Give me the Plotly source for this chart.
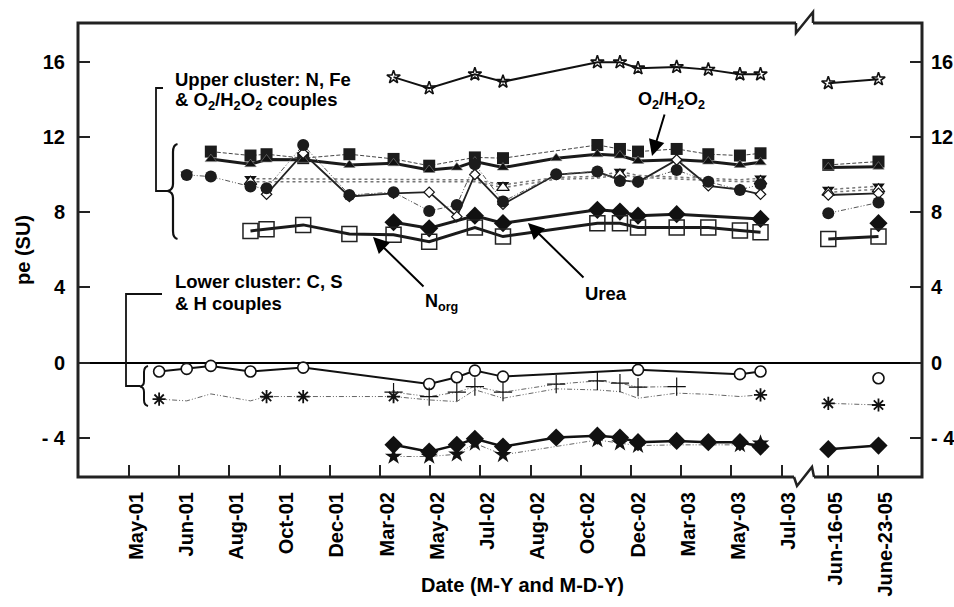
import plotly.graph_objects as go

N = None
# sampling positions on the (non-linear) date axis, in tick-index units
POS = [0.60, 1.15, 1.63, 2.42, 2.74, 3.47, 4.39, 5.27, 5.98, 6.53, 6.89, 7.45,
       8.51, 9.33, 9.78, 10.14, 10.91, 11.54, 12.17, 12.58, 13.93, 14.93]

TICK_POS = [0, 1, 2, 3, 4, 5, 6, 7, 8, 9, 10, 11, 12, 13, 13.93, 14.93]
TICK_TEXT = ["May-01", "Jun-01", "Aug-01", "Oct-01", "Dec-01", "Mar-02", "May-02",
             "Jul-02", "Aug-02", "Oct-02", "Dec-02", "Mar-03", "May-03", "Jul-03",
             "Jun-16-05", "June-23-05"]
Y_TICKS = [16, 12, 8, 4, 0, -4]
Y_TEXT = ["16", "12", "8", "4", "0", "- 4"]

# upper cluster
star_top = [N, N, N, N, N, N, N, 15.18, 14.59, N, 15.33, 14.94, N, 15.97, 15.97, 15.65, 15.72, 15.58, 15.33, 15.33, 14.86, 15.07]
sq_fill = [N, N, 11.22, 11.01, 11.08, 10.87, 11.08, 10.83, 10.47, N, 10.91, 10.87, N, 11.57, 11.36, 11.22, 11.36, 11.08, 11.01, 11.13, 10.51, 10.69]
tri_up = [N, N, 10.82, 10.55, 10.80, 10.78, 10.51, 10.60, 10.24, 10.37, 10.69, 10.37, 10.87, 11.08, 11.01, 10.72, 10.78, 10.69, 10.51, 10.65, 10.38, 10.42]
circ_fill = [N, 9.98, 9.89, 9.36, 9.27, 11.57, 8.91, 9.06, 8.06, 8.38, 10.55, 8.56, 10.02, 10.16, 9.66, 9.62, 10.24, 9.62, 9.18, 9.48, 7.94, 8.51]
dia_open = [N, N, N, N, 8.95, 11.13, 8.83, 9.00, 9.06, 7.76, 10.00, 8.42, 10.00, 10.15, 9.70, 9.60, 10.78, 9.40, 9.20, 8.95, 8.91, 9.00]
tri_down = [N, 10.02, N, 9.78, N, N, N, N, N, N, 9.72, 9.45, 9.85, 9.90, 10.16, 9.95, 9.85, 9.78, 9.72, 9.80, 9.20, 9.38]
tri_up_open = [N, N, N, 9.62, N, N, N, N, N, N, 9.62, 9.30, 9.75, 9.80, 10.00, 9.85, 9.75, 9.68, 9.62, 9.65, 9.05, 9.22]
dia_fill_up = [N, N, N, N, N, N, N, 7.46, 7.14, N, 7.81, 7.41, N, 8.12, 8.03, 7.81, 7.89, N, N, 7.64, N, 7.41]
sq_open = [N, N, N, 7.00, 7.09, 7.32, 6.84, 6.79, 6.43, N, 7.18, 6.70, N, 7.41, 7.41, 7.18, 7.18, 7.18, 7.02, 6.93, 6.57, 6.70]
# lower cluster
circ_open = [-0.48, -0.34, -0.18, -0.48, N, -0.27, N, N, -1.14, -0.78, -0.43, -0.75, N, N, N, -0.39, N, N, -0.62, -0.48, N, -0.84]
aster = [-1.95, -2.04, -1.67, -2.04, -1.81, -1.81, N, -1.81, -1.99, -2.08, -1.45, -1.90, -1.40, -1.46, -1.55, -1.90, -1.63, -1.69, -1.81, -1.72, -2.17, -2.26]
plus = [N, N, N, N, N, N, N, -1.58, -1.81, -1.58, -1.28, -1.58, -1.15, -0.98, -1.10, -1.31, -1.28, N, N, N, N, N]
dia_fill_low = [N, N, N, N, N, N, N, -4.38, -4.74, -4.38, -4.06, -4.47, -3.99, -3.89, -3.99, -4.24, -4.17, -4.24, -4.24, -4.47, -4.61, -4.42]
star_low = [N, N, N, N, N, N, N, -5.00, -5.00, -4.88, -4.30, -4.91, N, -4.12, -4.29, -4.42, -4.38, -4.38, -4.38, -4.30, N, N]

# points drawn as line vertices only (no visible marker)
aster_hidden = {1, 2, 3, 8, 9, 10, 11, 12, 13, 14, 15, 16, 17, 18}
tri_down_hidden = {10, 12, 13, 15, 16, 17, 18}
tri_up_open_hidden = {10, 12, 13, 15, 16, 17, 18}
star_low_hidden = {16, 17}

W, H = 954, 607
L, R, T, B = 78, 922, 23, 477
XR = [(L - 129) / 50.2, (R - 129) / 50.2]
YR = [-6.09, 18.06]
LABEL_SHIFT = 0.14  # tick labels sit slightly right of their ticks
FONT = "Liberation Sans, Arial, Helvetica, sans-serif"

fig = go.Figure()


def build(y, breaks):
    xs, ys = [], []
    last = None
    for i, v in enumerate(y):
        if v is None:
            continue
        if last is not None and any(last <= b < i for b in breaks):
            xs.append(None)
            ys.append(None)
        xs.append(POS[i])
        ys.append(v)
        last = i
    return xs, ys


def add(y, symbol, size, mfill, mlw, lw, dash, lcolor, hidden=(), breaks=(19,), mlc="#111"):
    xs, ys = build(y, breaks)
    fig.add_trace(go.Scatter(x=xs, y=ys, mode="lines", connectgaps=False,
                             line=dict(color=lcolor, width=lw, dash=dash),
                             showlegend=False, hoverinfo="skip"))
    mx = [POS[i] for i, v in enumerate(y) if v is not None and i not in hidden]
    my = [v for i, v in enumerate(y) if v is not None and i not in hidden]
    fig.add_trace(go.Scatter(x=mx, y=my, mode="markers",
                             marker=dict(symbol=symbol, size=size, color=mfill,
                                         line=dict(color=mlc, width=mlw)),
                             showlegend=False, hoverinfo="skip"))


DD = "5px,2px,1px,2px,1px,2px"
add(star_top, "star-open", 10, "#111", 1.6, 2, "solid", "#111")
add(sq_fill, "square", 12, "#1c1c1c", 0, 1, "4px,2px", "#444")
add(tri_up, "triangle-up", 10, "#111", 0.6, 3, "solid", "#1a1a1a", mlc="#888")
add(tri_down, "triangle-down", 11, "#111", 0, 1.5, "dot", "#777", hidden=tri_down_hidden, breaks=(1, 19))
add(tri_up_open, "triangle-up", 11, "white", 1.2, 1.5, "dot", "#777", hidden=tri_up_open_hidden)
add(dia_open, "diamond", 8, "white", 1.2, 1.8, "solid", "#222")
add(circ_fill, "circle", 12, "#1c1c1c", 0, 1, DD, "#555")
add(dia_fill_up, "diamond", 14, "#111", 0, 3, "solid", "#1a1a1a")
add(sq_open, "square-open", 15, "#222", 1.5, 3, "solid", "#1a1a1a")
add(circ_open, "circle", 11, "white", 1.6, 2, "solid", "#111")
add(aster, "asterisk-open", 11, "#111", 1.8, 1, DD, "#666", hidden=aster_hidden)
add(plus, "cross-thin-open", 13, "#111", 1.2, 1, DD, "#666")
add(star_low, "star", 13, "#111", 0, 1, DD, "#666", hidden=star_low_hidden)
add(dia_fill_low, "diamond", 14, "#111", 0, 2.5, "solid", "#111")

# dummy traces for the right axis and the label axis
fig.add_trace(go.Scatter(x=[None], y=[None], yaxis="y2", showlegend=False, hoverinfo="skip"))
fig.add_trace(go.Scatter(x=[None], y=[None], xaxis="x2", showlegend=False, hoverinfo="skip"))


def px(x):
    return (x - L) / (R - L)


def py(y):
    return (B - y) / (B - T)


def path(pts):
    return "M " + " L ".join(f"{px(a):.5f},{py(b):.5f}" for a, b in pts)


def qpath(cmds):
    out = []
    for c in cmds:
        if c[0] == "Q":
            out.append(f"Q {px(c[1]):.5f},{py(c[2]):.5f} {px(c[3]):.5f},{py(c[4]):.5f}")
        else:
            out.append(f"{c[0]} {px(c[1]):.5f},{py(c[2]):.5f}")
    return " ".join(out)


shapes = []
FC = "#222"
shapes.append(dict(type="path", xref="paper", yref="paper",
                   path=path([(796, T), (L, T), (L, B), (794, B)]), line=dict(color=FC, width=3)))
shapes.append(dict(type="path", xref="paper", yref="paper",
                   path=path([(813, T), (R, T), (R, B), (814, B)]), line=dict(color=FC, width=3)))
shapes.append(dict(type="path", xref="paper", yref="paper",
                   path=path([(796, T), (796, 33), (813, 12), (813, T)]), line=dict(color=FC, width=2.5)))
shapes.append(dict(type="path", xref="paper", yref="paper",
                   path=path([(794, B), (797, 486), (812, 467), (814, B)]), line=dict(color=FC, width=2.5)))
# brackets
shapes.append(dict(type="path", xref="paper", yref="paper",
                   path=path([(163, 88), (156, 88), (156, 191), (168, 191)]), line=dict(color="#111", width=1.8)))
shapes.append(dict(type="path", xref="paper", yref="paper",
                   path=path([(162, 294), (126, 294), (126, 386), (140, 386)]), line=dict(color="#111", width=1.8)))
# curly braces
shapes.append(dict(type="path", xref="paper", yref="paper",
                   path=qpath([("M", 177.5, 144), ("Q", 173, 145, 173, 152), ("L", 173, 184),
                               ("Q", 173, 190, 167.5, 191), ("Q", 173, 192, 173, 198), ("L", 173, 231),
                               ("Q", 173, 238, 177.5, 239)]),
                   line=dict(color="#111", width=2.2)))
shapes.append(dict(type="path", xref="paper", yref="paper",
                   path=qpath([("M", 148, 366), ("Q", 144, 367, 144, 372), ("L", 144, 381),
                               ("Q", 144, 386, 140, 386.5), ("Q", 144, 387, 144, 392), ("L", 144, 400),
                               ("Q", 144, 405, 148, 406)]),
                   line=dict(color="#111", width=2)))

ann = []


def text(x, y, s, size=18.5, xanchor="left", angle=0):
    ann.append(dict(x=px(x), y=py(y), xref="paper", yref="paper", text=s, showarrow=False,
                    xanchor=xanchor, yanchor="middle", textangle=angle,
                    font=dict(family=FONT, size=size, color="black", weight="bold")))


def arrow(tx, ty, hx, hy):
    ann.append(dict(x=px(hx), y=py(hy), xref="paper", yref="paper", text="",
                    showarrow=True, ax=tx - hx, ay=ty - hy, arrowhead=2, arrowsize=1.6,
                    arrowwidth=2, arrowcolor="black", standoff=0, startstandoff=0))


text(173, 80, "Upper cluster: N, Fe")
text(173, 101, "& O<sub>2</sub>/H<sub>2</sub>O<sub>2</sub> couples")
text(173, 281, "Lower cluster: C, S")
text(173, 303, "& H couples")
text(636, 100, "O<sub>2</sub>/H<sub>2</sub>O<sub>2</sub>", size=18)
text(423, 302, "N<sub>org</sub>", size=18)
text(583, 293, "Urea", size=18.5)
arrow(665, 113, 652, 156)
arrow(425, 288, 373, 237)
arrow(585, 279, 528, 223)
text(23, 250, "pe (SU)", size=20, xanchor="center", angle=-90)
text(522, 585, "Date (M-Y and M-D-Y)", size=20, xanchor="center")

TF = dict(family=FONT, size=20, color="black", weight="bold")
fig.update_layout(
    width=W, height=H, autosize=False,
    margin=dict(l=L, r=W - R, t=T, b=H - B, pad=0),
    plot_bgcolor="white", paper_bgcolor="white",
    shapes=shapes, annotations=ann,
    xaxis=dict(range=XR, tickmode="array", tickvals=TICK_POS, showticklabels=False,
               ticks="inside", ticklen=12, tickwidth=2, tickcolor=FC, automargin=False,
               showline=False, showgrid=False, zeroline=False),
    xaxis2=dict(range=XR, overlaying="x", side="bottom", anchor="y", tickmode="array",
                tickvals=[p + LABEL_SHIFT for p in TICK_POS], ticktext=TICK_TEXT,
                tickangle=-90, ticks="", automargin=False,
                showline=False, showgrid=False, zeroline=False,
                tickfont=TF, ticklabelstandoff=10),
    yaxis=dict(range=YR, tickmode="array", tickvals=Y_TICKS, ticktext=Y_TEXT,
               ticks="inside", ticklen=12, tickwidth=2, tickcolor=FC, automargin=False,
               showline=False, showgrid=False, zeroline=True, zerolinecolor="black",
               zerolinewidth=2, tickfont=TF, ticklabelstandoff=12),
    yaxis2=dict(range=YR, tickmode="array", tickvals=Y_TICKS, ticktext=Y_TEXT,
                overlaying="y", side="right", automargin=False,
                ticks="inside", ticklen=12, tickwidth=2, tickcolor=FC,
                showline=False, showgrid=False, zeroline=False, tickfont=TF,
                ticklabelstandoff=8),
)

fig.write_html("out.html")
